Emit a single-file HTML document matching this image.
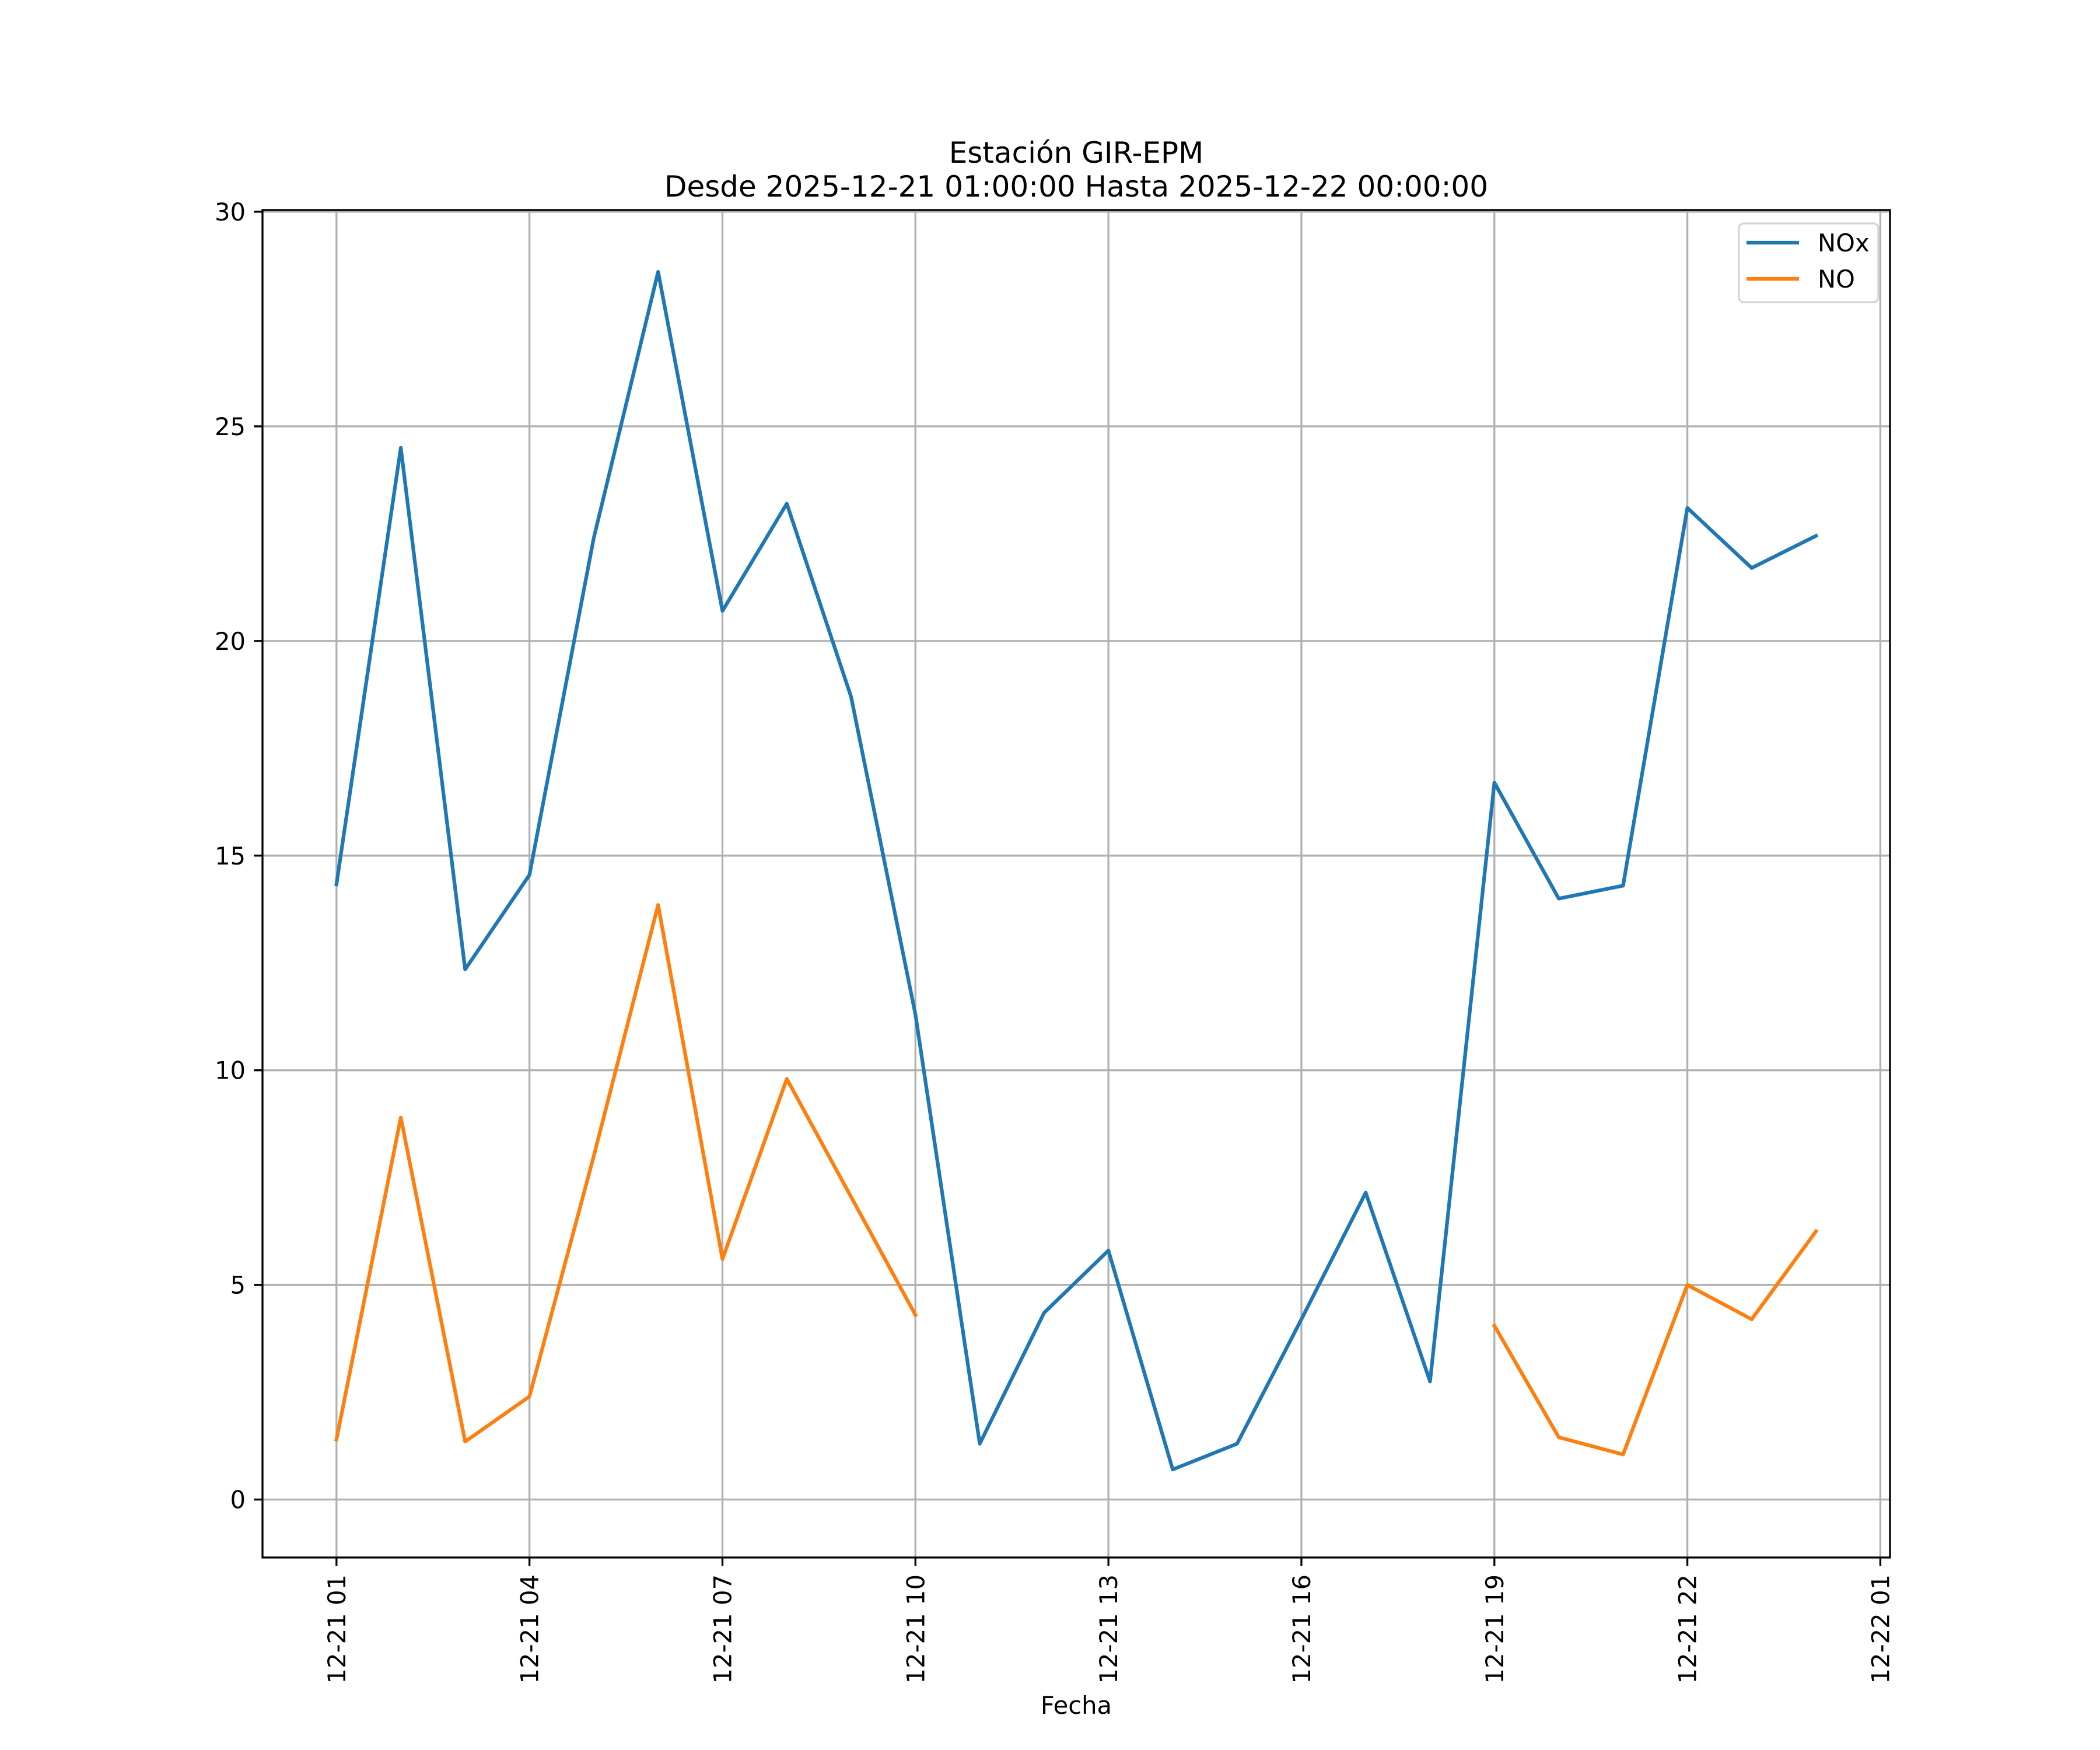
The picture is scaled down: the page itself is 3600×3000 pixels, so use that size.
<!DOCTYPE html>
<html><head><meta charset="utf-8">
<style>
html,body{margin:0;padding:0;background:#fff;}
svg{display:block;font-family:"DejaVu Sans","Liberation Sans",sans-serif;}
</style></head>
<body>
<svg id="chart" width="3600" height="3000" viewBox="0 0 3600 3000" xmlns="http://www.w3.org/2000/svg">
<rect x="0" y="0" width="3600" height="3000" fill="#fff"/>
<g id="title" font-size="50" text-anchor="middle" fill="#000">
<text x="1845" y="279">Estación GIR-EPM</text>
<text x="1845" y="337">Desde 2025-12-21 01:00:00 Hasta 2025-12-22 00:00:00</text>
</g>
<g id="grid"></g>
<g id="series"></g>
<rect x="450" y="360" width="2790" height="2310" fill="none" stroke="#000" stroke-width="3.3"/>
<g id="xticks"></g>
<g id="yticks"></g>
<text x="1845" y="2938" font-size="41.7" text-anchor="middle">Fecha</text>
<g>
<rect x="2981" y="383" width="239" height="135" rx="8" fill="#fff" fill-opacity="0.8" stroke="#d4d4d4" stroke-width="3.3"/>
<line x1="2994" y1="416" x2="3084" y2="416" stroke="#1f77b4" stroke-width="6.25"/>
<text x="3116" y="431" font-size="41.7">NOx</text>
<line x1="2994" y1="478" x2="3084" y2="478" stroke="#ff7f0e" stroke-width="6.25"/>
<text x="3116" y="493" font-size="41.7">NO</text>
</g>
</svg>
<script>
const hours = [1,2,3,4,5,6,7,8,9,10,11,12,13,14,15,16,17,18,19,20,21,22,23,24];
const noxValues = [14.33,24.5,12.35,14.55,22.4,28.6,20.7,23.2,18.7,11.3,1.3,4.35,5.8,0.7,1.3,4.2,7.15,2.75,16.7,14.0,14.3,23.1,21.7,22.45];
const noValues = [1.4,8.9,1.35,2.4,8.0,13.85,5.6,9.8,7.05,4.3,null,null,null,null,null,null,null,null,4.05,1.45,1.05,5.0,4.2,6.25];
const xTickHours = [1,4,7,10,13,16,19,22,25];
const xTickLabels = ["12-21 01","12-21 04","12-21 07","12-21 10","12-21 13","12-21 16","12-21 19","12-21 22","12-22 01"];
const yTicks = [0,5,10,15,20,25,30];

const NS="http://www.w3.org/2000/svg";
const L=450,R=3240,T=360,B=2670;
const xmin=1-1.15, xmax=24+1.15;
const ymin=-1.35, ymax=30.04;
const xs=h=>L+(h-xmin)/(xmax-xmin)*(R-L);
const ys=v=>B-(v-ymin)/(ymax-ymin)*(B-T);
function mk(tag,attrs,parent){const e=document.createElementNS(NS,tag);for(const k in attrs)e.setAttribute(k,attrs[k]);parent.appendChild(e);return e;}
const grid=document.getElementById('grid'),xt=document.getElementById('xticks'),yt=document.getElementById('yticks'),ser=document.getElementById('series');
xTickHours.forEach((h,i)=>{
  const x=xs(h);
  const g=mk('line',{x1:x,y1:T,x2:x,y2:B,stroke:'#b0b0b0','stroke-width':3.3},grid);
  
  
  const t=mk('line',{x1:x,y1:B,x2:x,y2:B+14.6,stroke:'#000','stroke-width':3.3},xt);
  
  
  const tx=mk('text',{x:0,y:0,'font-size':41.7,'text-anchor':'end',transform:`translate(${x+15},${B+29}) rotate(-90)`},xt);
  
  
  tx.textContent=xTickLabels[i];
});
yTicks.forEach(v=>{
  const y=ys(v);
  const g=mk('line',{x1:L,y1:y,x2:R,y2:y,stroke:'#b0b0b0','stroke-width':3.3},grid);
  
  
  const t=mk('line',{x1:L-14.6,y1:y,x2:L,y2:y,stroke:'#000','stroke-width':3.3},yt);
  
  
  const tx=mk('text',{x:L-29,y:y+15,'font-size':41.7,'text-anchor':'end'},yt);
  
  
  tx.textContent=String(v);
});
function pathFor(vals){let d='',pen=false;vals.forEach((v,i)=>{if(v===null||v===undefined){pen=false;return;}d+=(pen?'L':'M')+xs(hours[i]).toFixed(1)+','+ys(v).toFixed(1);pen=true;});return d;}
const p1=mk('path',{d:pathFor(noxValues),fill:'none',stroke:'#1f77b4','stroke-width':6.25,'stroke-linejoin':'round','stroke-linecap':'square'},ser);


const p2=mk('path',{d:pathFor(noValues),fill:'none',stroke:'#ff7f0e','stroke-width':6.25,'stroke-linejoin':'round','stroke-linecap':'square'},ser);


</script>
</body></html>
